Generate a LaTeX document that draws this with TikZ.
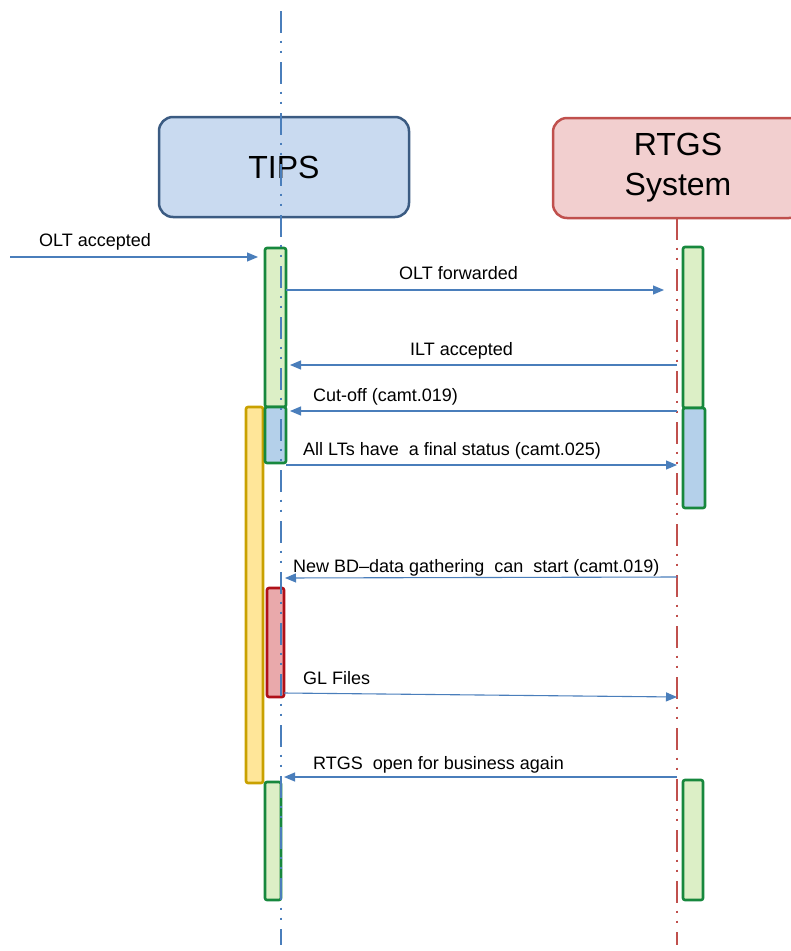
\documentclass[tikz,border=0pt]{standalone}
\usepackage{fontspec}
\setmainfont{Liberation Sans}
\usetikzlibrary{arrows.meta}

\definecolor{tipsfill}{HTML}{C9DAF0}
\definecolor{tipsdraw}{HTML}{3B5B82}
\definecolor{rtgsfill}{HTML}{F2CFCF}
\definecolor{rtgsdraw}{HTML}{C0504D}
\definecolor{msgblue}{HTML}{4A7EBB}
\definecolor{bargreen}{HTML}{DCEFC6}
\definecolor{bargreendraw}{HTML}{17883D}
\definecolor{barblue}{HTML}{B4D0EA}
\definecolor{barred}{HTML}{E9A9AB}
\definecolor{barreddraw}{HTML}{B01018}
\definecolor{baryellow}{HTML}{FFE699}
\definecolor{baryellowdraw}{HTML}{C9A100}

\tikzset{
    headbox/.style={rounded corners=14pt, line width=2.5pt, minimum width=250pt, minimum height=100pt,
        align=center, font=\fontsize{32}{40}\selectfont},
    lifeline/.style={line width=2pt, dash pattern=on 22pt off 7.5pt on 2.5pt off 7.5pt on 2.5pt off 9pt},
    actbar/.style={line width=2.6pt, rounded corners=2pt, anchor=north west, inner sep=0pt, outer sep=0pt},
    greenbar/.style={actbar, draw=bargreendraw, fill=bargreen},
    bluebar/.style={actbar, draw=bargreendraw, fill=barblue},
    msg/.style={draw=msgblue, line width=1.1pt, -{Triangle[length=11pt,width=9pt]}},
    lbl/.style={anchor=base west, inner sep=0pt, font=\fontsize{18}{21}\selectfont}
}

\begin{document}
\begin{tikzpicture}[x=1pt, y=-1pt]
    \useasboundingbox (0,0) rectangle (791,951);
    \clip (0,0) rectangle (791,951);

    % heads
    \node[headbox, draw=tipsdraw, fill=tipsfill] (tips) at (284,167) {TIPS};
    \node[headbox, draw=rtgsdraw, fill=rtgsfill] (rtgs) at (678,168) {RTGS\\System};

    % activation bars
    \node[greenbar, minimum width=21pt, minimum height=159pt] (tipsA) at (265,248) {};
    \node[actbar, draw=baryellowdraw, fill=baryellow, minimum width=17pt, minimum height=376pt] (tipsY) at (246,407) {};
    \node[bluebar, minimum width=21pt, minimum height=56pt] (tipsB) at (265,407) {};
    \node[actbar, draw=barreddraw, fill=barred, minimum width=17pt, minimum height=109pt] (tipsC) at (267,588) {};
    \node[greenbar, minimum width=16pt, minimum height=118pt] (tipsD) at (265,782) {};
    \node[greenbar, minimum width=20pt, minimum height=161pt] (rtgsA) at (683,247) {};
    \node[bluebar, minimum width=22pt, minimum height=100pt] (rtgsB) at (683,408) {};
    \node[greenbar, minimum width=20pt, minimum height=120pt] (rtgsC) at (683,780) {};

    % lifelines
    \coordinate (tipsL) at (281,11);
    \coordinate (rtgsL) at (677,218);
    \draw[lifeline, draw=msgblue] (tipsL) -- (281,945);
    \draw[lifeline, draw=rtgsdraw] (rtgsL) -- (677,945);

    % messages
    \coordinate (src) at (10,257);
    \draw[msg, shorten >=7pt] (src) -- (tipsA.west |- 0,257);
    \node[lbl] (m1) at (39,246) {OLT accepted};

    \draw[msg, shorten >=19pt] (tipsA.east |- 0,290) -- (rtgsA.west |- 0,290);
    \node[lbl] (m2) at (399,279) {OLT forwarded};

    \draw[msg, shorten >=4pt] (rtgsL |- 0,365) -- (tipsA.east |- 0,365);
    \node[lbl] (m3) at (410,355) {ILT accepted};

    \draw[msg, shorten >=4pt] (rtgsL |- 0,411) -- (tipsB.east |- 0,411);
    \node[lbl] (m4) at (313,401) {Cut-off (camt.019)};

    \draw[msg] (tipsB.east |- 0,465) -- (rtgsL |- 0,465);
    \node[lbl] (m5) at (303,455) {All LTs have\ \ a final status (camt.025)};

    \draw[msg, shorten >=4pt] (rtgsL |- 0,577) -- (tipsL |- 0,578);
    \node[lbl] (m6) at (293,572) {New BD--data gathering\ \ can\ \ start (camt.019)};

    \draw[msg] (tipsC.east |- 0,693) -- (rtgsL |- 0,697);
    \node[lbl] (m7) at (303,684) {GL Files};

    \draw[msg, shorten >=3pt] (rtgsL |- 0,777) -- (tipsL |- 0,777);
    \node[lbl] (m8) at (313,769) {RTGS\ \ open for business again};
\end{tikzpicture}
\end{document}
